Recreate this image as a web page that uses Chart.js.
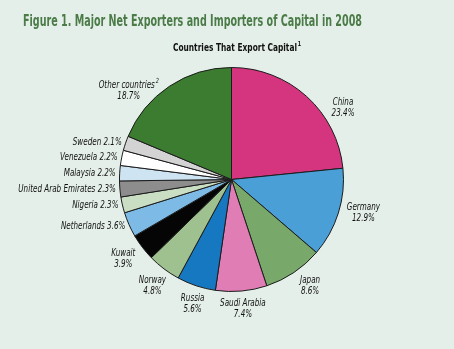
<!DOCTYPE html>
<html>
<head>
<meta charset="utf-8">
<script src="https://cdn.jsdelivr.net/npm/chart.js@4.4.1/dist/chart.umd.min.js"></script>
<style>
  html, body { margin: 0; padding: 0; background: #e4efe9; }
  #wrap { width: 454px; height: 349px; position: relative; }
</style>
</head>
<body>
<div id="wrap"><canvas id="pie" width="454" height="349"></canvas></div>
<script>
// shares of net capital exports, 2008 (%)
const countries = ['China', 'Germany', 'Japan', 'Saudi Arabia', 'Russia', 'Norway', 'Kuwait',
  'Netherlands', 'Nigeria', 'United Arab Emirates', 'Malaysia', 'Venezuela', 'Sweden', 'Other countries'];
const shares = [23.4, 12.9, 8.6, 7.4, 5.6, 4.8, 3.9, 3.6, 2.3, 2.3, 2.2, 2.2, 2.1, 18.7];
const footnotes = ['', '', '', '', '', '', '', '', '', '', '', '', '', '2'];

const sliceColors = ['#d5357f', '#4aa0d6', '#78a96b', '#e07db5', '#1778c2', '#9ec18f', '#050505',
  '#7dbbe6', '#c9dec3', '#8d8d8d', '#cfe4f2', '#ffffff', '#d3d3d3', '#3b7c31'];

// label placement: one-line labels sit right-aligned next to the rim,
// where = fraction along the slice where the label is anchored
const oneLine = [false, false, false, false, false, false, false, true, true, true, true, true, true, false];
const where = [0.68, 0.43, 0.42, 0.5, 0.45, 0.47, 0.58, 0.5, 0.5, 0.5, 0.5, 0.5, 0.5, 0.27];

const FAMILY = "'DejaVu Sans Condensed', 'Liberation Sans', sans-serif";
const SQUEEZE = 0.8; // condensed look: horizontal text scale

// draws text (plus optional superscript) squeezed horizontally; returns drawn width
function squeezed(ctx, main, sup, x, y, size, style, align, sx) {
  ctx.font = style + ' ' + size + 'px ' + FAMILY;
  const mainW = ctx.measureText(main).width;
  const supFont = style + ' ' + Math.round(size * 0.65) + 'px ' + FAMILY;
  let supW = 0;
  if (sup) {
    ctx.font = supFont;
    supW = ctx.measureText(sup).width + 1;
  }
  const total = (mainW + supW) * sx;
  let left = x;
  if (align === 'center') left = x - total / 2;
  else if (align === 'right') left = x - total;
  ctx.save();
  ctx.translate(left, y);
  ctx.scale(sx, 1);
  ctx.textAlign = 'left';
  ctx.font = style + ' ' + size + 'px ' + FAMILY;
  ctx.fillText(main, 0, 0);
  if (sup) {
    ctx.font = supFont;
    ctx.fillText(sup, mainW + 1, -size * 0.38);
  }
  ctx.restore();
  return total;
}

function widthOf(ctx, str, size, style) {
  ctx.font = style + ' ' + size + 'px ' + FAMILY;
  return ctx.measureText(str).width;
}

const pieText = {
  id: 'pieText',
  afterDraw(chart) {
    const ctx = chart.ctx;
    ctx.save();
    ctx.textBaseline = 'middle';

    // heading
    const heading = 'Figure 1. Major Net Exporters and Importers of Capital in 2008';
    ctx.fillStyle = '#4b7c48';
    const hs = 339 / widthOf(ctx, heading, 15, 'bold');
    squeezed(ctx, heading, '', 23, 22, 15, 'bold', 'left', hs);

    ctx.fillStyle = '#111';
    const sub = 'Countries That Export Capital';
    const ss = 124 / widthOf(ctx, sub, 11, 'bold');
    squeezed(ctx, sub, '1', 237, 48, 11, 'bold', 'center', ss);

    // slice labels
    const meta = chart.getDatasetMeta(0);
    meta.data.forEach((arc, i) => {
      const p = arc.getProps(['x', 'y', 'startAngle', 'endAngle', 'outerRadius'], true);
      const a = p.startAngle + (p.endAngle - p.startAngle) * where[i];
      const cx = Math.cos(a), cy = Math.sin(a);
      const pct = shares[i].toFixed(1) + '%';
      if (oneLine[i]) {
        const d = p.outerRadius + 4;
        squeezed(ctx, countries[i] + ' ' + pct, footnotes[i], p.x + cx * d, p.y + cy * d, 10, 'italic', 'right', SQUEEZE);
      } else {
        const w = SQUEEZE * Math.max(widthOf(ctx, countries[i], 10, 'italic') + (footnotes[i] ? 6 : 0),
                                     widthOf(ctx, pct, 10, 'italic'));
        const hw = w / 2, hh = 11;
        const edge = Math.min(Math.abs(cx) > 1e-3 ? hw / Math.abs(cx) : 1e9, Math.abs(cy) > 1e-3 ? hh / Math.abs(cy) : 1e9);
        const d = p.outerRadius + 7 + edge;
        const lx = p.x + cx * d, ly = p.y + cy * d;
        squeezed(ctx, countries[i], footnotes[i], lx, ly - 5.5, 10, 'italic', 'center', SQUEEZE);
        squeezed(ctx, pct, '', lx, ly + 5.5, 10, 'italic', 'center', SQUEEZE);
      }
    });
    ctx.restore();
  }
};

new Chart(document.getElementById('pie'), {
  type: 'pie',
  data: {
    labels: countries,
    datasets: [{
      data: shares,
      backgroundColor: sliceColors,
      borderColor: '#1b1b1b',
      borderWidth: 1
    }]
  },
  options: {
    responsive: false,
    animation: false,
    layout: { padding: { left: 119, right: 110, top: 67, bottom: 57 } },
    plugins: {
      legend: { display: false },
      tooltip: { enabled: false }
    }
  },
  plugins: [pieText]
});
</script>
</body>
</html>
